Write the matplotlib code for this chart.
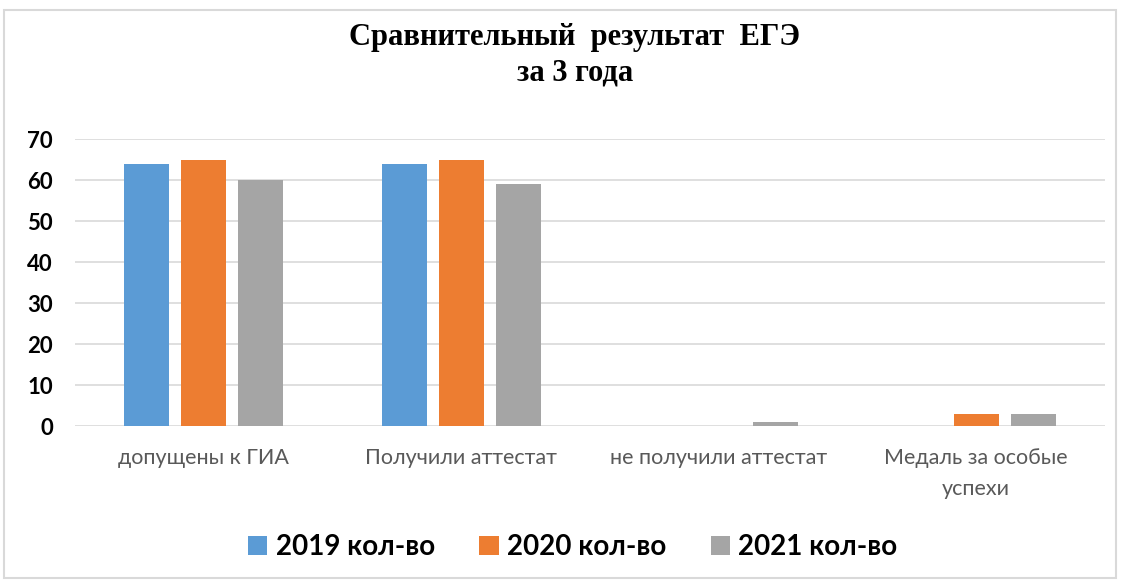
import matplotlib
matplotlib.use("Agg")
import matplotlib.pyplot as plt
from matplotlib.patches import Rectangle
import numpy as np

categories = ["допущены к ГИА", "Получили аттестат", "не получили аттестат", "Медаль за особые\nуспехи"]
series_names = ["2019 кол-во", "2020 кол-во", "2021 кол-во"]
v2019 = [64, 64, 0, 0]
v2020 = [65, 65, 0, 3]
v2021 = [60, 59, 1, 3]
yticks = [0, 10, 20, 30, 40, 50, 60, 70]

colors = ["#5B9BD5", "#ED7D31", "#A5A5A5"]

fig = plt.figure(figsize=(11.23, 5.82), dpi=100)
fig.patches.append(Rectangle((0.004, 0.007), 0.99, 0.975, transform=fig.transFigure,
                             fill=False, edgecolor="#D9D9D9", linewidth=1.5))
ax = fig.add_axes([0.0668, 0.268, 0.917, 0.493])

x = np.arange(len(categories))
w = 0.175
step = 0.222
for i, (vals, name) in enumerate(zip([v2019, v2020, v2021], series_names)):
    ax.bar(x + (i - 1) * step, vals, width=w, color=colors[i], label=name, zorder=3)

ax.set_xlim(-0.5, len(categories) - 0.5)
ax.set_ylim(0, 70)
ax.set_yticks(yticks)
ax.set_yticklabels([str(t) for t in yticks], fontsize=16, fontweight="bold", family="Lato")
ax.set_xticks(x)
ax.set_xticklabels(categories, fontsize=15.5, color="#595959", family="Lato", linespacing=1.65)
ax.tick_params(axis="both", length=0)
ax.tick_params(axis="y", pad=16)
ax.tick_params(axis="x", pad=16)
ax.grid(axis="y", color="#D9D9D9", linewidth=1.2, zorder=0)
for s in ax.spines.values():
    s.set_visible(False)

fig.text(0.512, 0.905, "Сравнительный  результат  ЕГЭ\nза 3 года", ha="center", va="center",
         fontsize=22, fontweight="bold", family="Liberation Serif", linespacing=1.3)

leg = fig.legend(loc="center", bbox_to_anchor=(0.51, 0.06), ncol=3, frameon=False,
                 prop={"family": "Lato", "weight": "bold", "size": 20},
                 handlelength=0.7, handleheight=0.7, handletextpad=0.3, columnspacing=1.6)

fig.savefig("out.png", dpi=100)
